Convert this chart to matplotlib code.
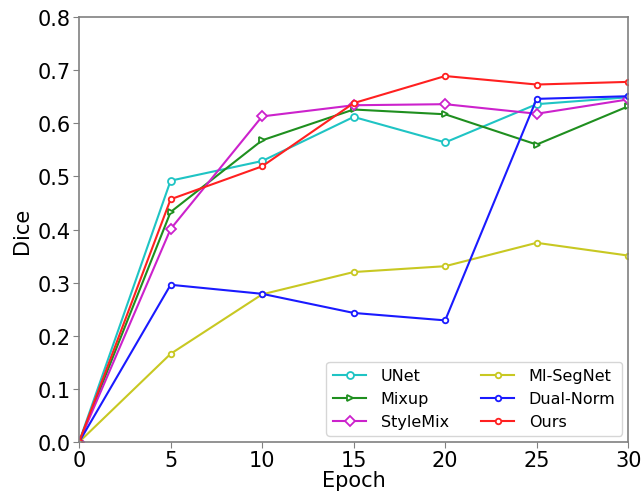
import matplotlib
matplotlib.use("Agg")
import matplotlib.pyplot as plt

epochs = [0, 5, 10, 15, 20, 25, 30]
unet = [0.0, 0.492, 0.529, 0.612, 0.564, 0.636, 0.649]
mixup = [0.0, 0.433, 0.568, 0.626, 0.617, 0.560, 0.632]
stylemix = [0.0, 0.401, 0.613, 0.634, 0.636, 0.618, 0.645]
misegnet = [0.0, 0.166, 0.278, 0.320, 0.331, 0.375, 0.351]
dualnorm = [0.0, 0.296, 0.279, 0.243, 0.229, 0.646, 0.651]
ours = [0.0, 0.457, 0.519, 0.638, 0.689, 0.673, 0.678]

fig = plt.figure(figsize=(6.43, 5.02), dpi=100)
ax = fig.add_axes([0.123, 0.1175, 0.854, 0.8465])

ax.plot(epochs, unet, color='#1fc4c4', marker='o', mfc='white', ms=5, mew=1.3, lw=1.5, label='UNet')
ax.plot(epochs, mixup, color='#1f8f1f', marker='>', mfc='white', ms=5, mew=1.3, lw=1.5, label='Mixup')
ax.plot(epochs, stylemix, color='#cc22cc', marker='D', mfc='white', ms=5, mew=1.3, lw=1.5, label='StyleMix')
ax.plot(epochs, misegnet, color='#c8c822', marker='o', mfc='white', ms=4, mew=1.3, lw=1.5, label='MI-SegNet')
ax.plot(epochs, dualnorm, color='#1a1aff', marker='o', mfc='white', ms=4, mew=1.3, lw=1.5, label='Dual-Norm')
ax.plot(epochs, ours, color='#ff2020', marker='o', mfc='white', ms=4, mew=1.3, lw=1.5, label='Ours')

ax.set_xlim(0, 30)
ax.set_ylim(0, 0.8)
ax.set_xticks(epochs)
ax.set_yticks([0.0, 0.1, 0.2, 0.3, 0.4, 0.5, 0.6, 0.7, 0.8])
ax.set_yticklabels(['0.0', '0.1', '0.2', '0.3', '0.4', '0.5', '0.6', '0.7', '0.8'])
ax.tick_params(labelsize=15, length=4, color='#808080', pad=2)
ax.set_xlabel('Epoch', fontsize=15, labelpad=0)
ax.set_ylabel('Dice', fontsize=15, labelpad=4)
for s in ax.spines.values():
    s.set_color('#808080')
    s.set_linewidth(1.2)

ax.legend(ncol=2, loc='lower right', fontsize=11.5, framealpha=0.8, handlelength=2.1,
          handletextpad=0.9, columnspacing=2.0, borderaxespad=0.4)

fig.savefig('out.png', dpi=100)
